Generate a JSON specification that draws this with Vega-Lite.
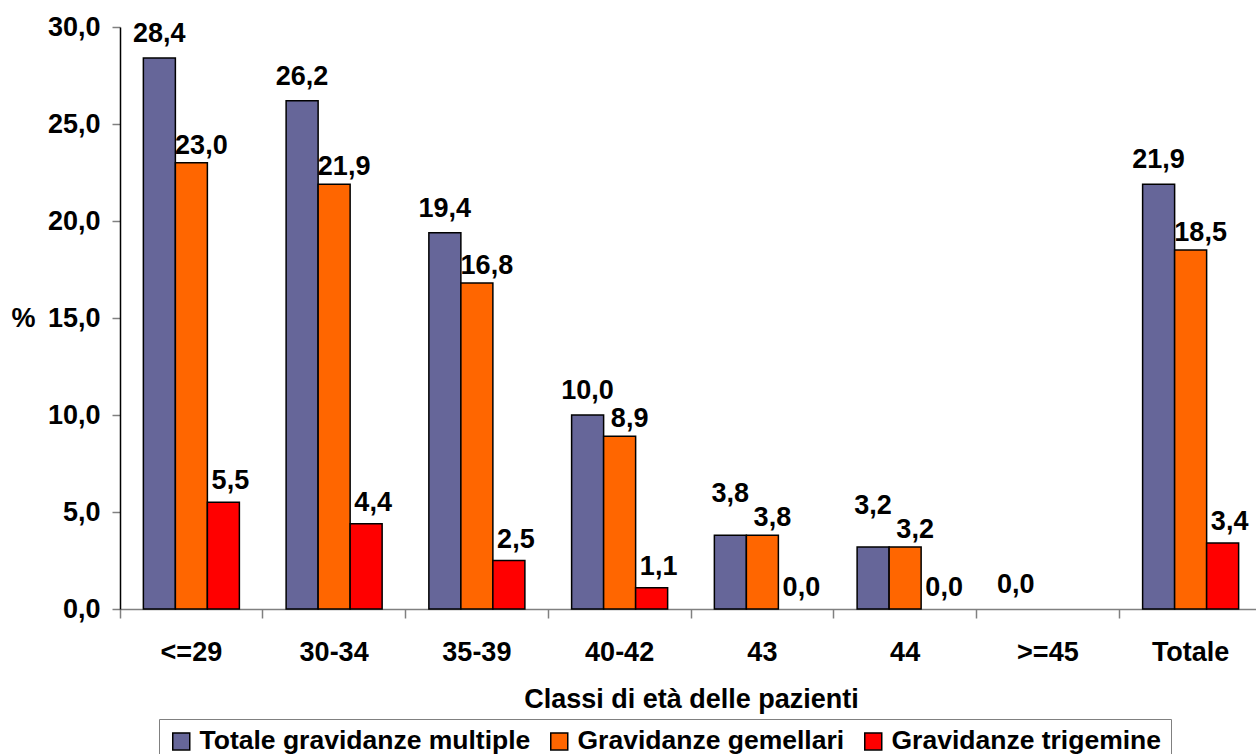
{
  "$schema": "https://vega.github.io/schema/vega-lite/v6.json",
  "autosize": "none",
  "padding": {"left": 120, "top": 27, "right": 0, "bottom": 145},
  "width": 1142,
  "height": 582,
  "background": "white",
  "config": {
    "view": {"stroke": null},
    "font": "Liberation Sans",
    "locale": {"number": {"decimal": ",", "thousands": ".", "grouping": [3], "currency": ["€", ""]}}
  },
  "data": {
    "values": [
      {"Classe": "<=29", "Serie": "Totale gravidanze multiple", "Valore": 28.4},
      {"Classe": "<=29", "Serie": "Gravidanze gemellari", "Valore": 23.0},
      {"Classe": "<=29", "Serie": "Gravidanze trigemine", "Valore": 5.5},
      {"Classe": "30-34", "Serie": "Totale gravidanze multiple", "Valore": 26.2},
      {"Classe": "30-34", "Serie": "Gravidanze gemellari", "Valore": 21.9},
      {"Classe": "30-34", "Serie": "Gravidanze trigemine", "Valore": 4.4},
      {"Classe": "35-39", "Serie": "Totale gravidanze multiple", "Valore": 19.4},
      {"Classe": "35-39", "Serie": "Gravidanze gemellari", "Valore": 16.8},
      {"Classe": "35-39", "Serie": "Gravidanze trigemine", "Valore": 2.5},
      {"Classe": "40-42", "Serie": "Totale gravidanze multiple", "Valore": 10.0},
      {"Classe": "40-42", "Serie": "Gravidanze gemellari", "Valore": 8.9},
      {"Classe": "40-42", "Serie": "Gravidanze trigemine", "Valore": 1.1},
      {"Classe": "43", "Serie": "Totale gravidanze multiple", "Valore": 3.8},
      {"Classe": "43", "Serie": "Gravidanze gemellari", "Valore": 3.8},
      {"Classe": "43", "Serie": "Gravidanze trigemine", "Valore": 0.0},
      {"Classe": "44", "Serie": "Totale gravidanze multiple", "Valore": 3.2},
      {"Classe": "44", "Serie": "Gravidanze gemellari", "Valore": 3.2},
      {"Classe": "44", "Serie": "Gravidanze trigemine", "Valore": 0.0},
      {"Classe": ">=45", "Serie": "Totale gravidanze multiple", "Valore": 0.0},
      {"Classe": ">=45", "Serie": "Gravidanze gemellari", "Valore": 0.0},
      {"Classe": ">=45", "Serie": "Gravidanze trigemine", "Valore": 0.0},
      {"Classe": "Totale", "Serie": "Totale gravidanze multiple", "Valore": 21.9},
      {"Classe": "Totale", "Serie": "Gravidanze gemellari", "Valore": 18.5},
      {"Classe": "Totale", "Serie": "Gravidanze trigemine", "Valore": 3.4}
    ]
  },
  "encoding": {
    "x": {
      "field": "Classe", "type": "nominal",
      "sort": ["<=29", "30-34", "35-39", "40-42", "43", "44", ">=45", "Totale"],
      "scale": {"domain": ["<=29", "30-34", "35-39", "40-42", "43", "44", ">=45", "Totale"], "paddingInner": 0, "paddingOuter": 0},
      "axis": {
        "title": "Classi di età delle pazienti",
        "titleFont": "Liberation Sans", "titleFontSize": 27, "titleFontWeight": "bold", "titleColor": "black",
        "titlePadding": 21,
        "labelAngle": 0, "labelFontSize": 27, "labelFontWeight": "bold", "labelColor": "black", "labelPadding": 21,
        "bandPosition": 0, "tickSize": 9, "tickColor": "#808080", "tickWidth": 1.5,
        "domainColor": "#808080", "domainWidth": 1.5, "grid": false
      }
    },
    "xOffset": {"field": "Serie", "type": "nominal", "sort": ["Totale gravidanze multiple", "Gravidanze gemellari", "Gravidanze trigemine"], "scale": {"domain": ["Totale gravidanze multiple", "Gravidanze gemellari", "Gravidanze trigemine"], "paddingInner": 0, "paddingOuter": 0.73}},
    "y": {
      "field": "Valore", "type": "quantitative",
      "scale": {"domain": [0, 30], "nice": false},
      "axis": {
        "values": [0, 5, 10, 15, 20, 25, 30], "format": ".1f",
        "title": "%", "titleAngle": 0, "titleFontSize": 27, "titleFontWeight": "bold", "titleColor": "black",
        "titleX": -109, "titleY": 291, "titleAlign": "left", "titleBaseline": "middle",
        "labelFontSize": 27, "labelFontWeight": "bold", "labelColor": "black", "labelPadding": 12,
        "tickSize": 8, "tickColor": "#808080", "tickWidth": 1.5,
        "domainColor": "black", "domainWidth": 1.5, "grid": false
      }
    }
  },
  "layer": [
    {
      "transform": [{"filter": "datum.Valore > 0"}],
      "mark": {"type": "bar", "stroke": "black", "strokeWidth": 1.5},
      "encoding": {
        "color": {
          "field": "Serie", "type": "nominal",
          "sort": ["Totale gravidanze multiple", "Gravidanze gemellari", "Gravidanze trigemine"],
          "scale": {"domain": ["Totale gravidanze multiple", "Gravidanze gemellari", "Gravidanze trigemine"], "range": ["#666699", "#FF6600", "#FF0000"]},
          "legend": {
            "title": null, "orient": "none", "direction": "horizontal",
            "legendX": 39, "legendY": 692,
            "symbolType": "square", "symbolSize": 289, "symbolStrokeColor": "black", "symbolStrokeWidth": 1.5,
            "labelFontSize": 26.5, "labelFontWeight": "bold", "labelColor": "black", "labelOffset": 5,
            "columnPadding": 15, "strokeColor": "#808080", "padding": 9, "fillColor": "white",
            "labelLimit": 600
          }
        }
      }
    },
    {
      "transform": [{"filter": "datum.Serie == 'Totale gravidanze multiple' && datum.Classe != '43' && datum.Classe != '44'"}],
      "mark": {"type": "text", "baseline": "alphabetic", "dy": -16, "fontSize": 27, "fontWeight": "bold", "color": "black"},
      "encoding": {"text": {"field": "Valore", "type": "quantitative", "format": ".1f"}}
    },
    {
      "transform": [{"filter": "datum.Serie == 'Totale gravidanze multiple' && (datum.Classe == '43' || datum.Classe == '44')"}],
      "mark": {"type": "text", "baseline": "alphabetic", "dy": -33, "fontSize": 27, "fontWeight": "bold", "color": "black"},
      "encoding": {"text": {"field": "Valore", "type": "quantitative", "format": ".1f"}}
    },
    {
      "transform": [{"filter": "datum.Serie == 'Gravidanze gemellari' && datum.Classe != '>=45'"}],
      "mark": {"type": "text", "baseline": "alphabetic", "dx": 10, "dy": -9, "fontSize": 27, "fontWeight": "bold", "color": "black"},
      "encoding": {"text": {"field": "Valore", "type": "quantitative", "format": ".1f"}}
    },
    {
      "transform": [{"filter": "datum.Serie == 'Gravidanze trigemine' && datum.Classe != '>=45'"}],
      "mark": {"type": "text", "baseline": "alphabetic", "dx": 7, "dy": -13, "fontSize": 27, "fontWeight": "bold", "color": "black"},
      "encoding": {"text": {"field": "Valore", "type": "quantitative", "format": ".1f"}}
    }
  ]
}
